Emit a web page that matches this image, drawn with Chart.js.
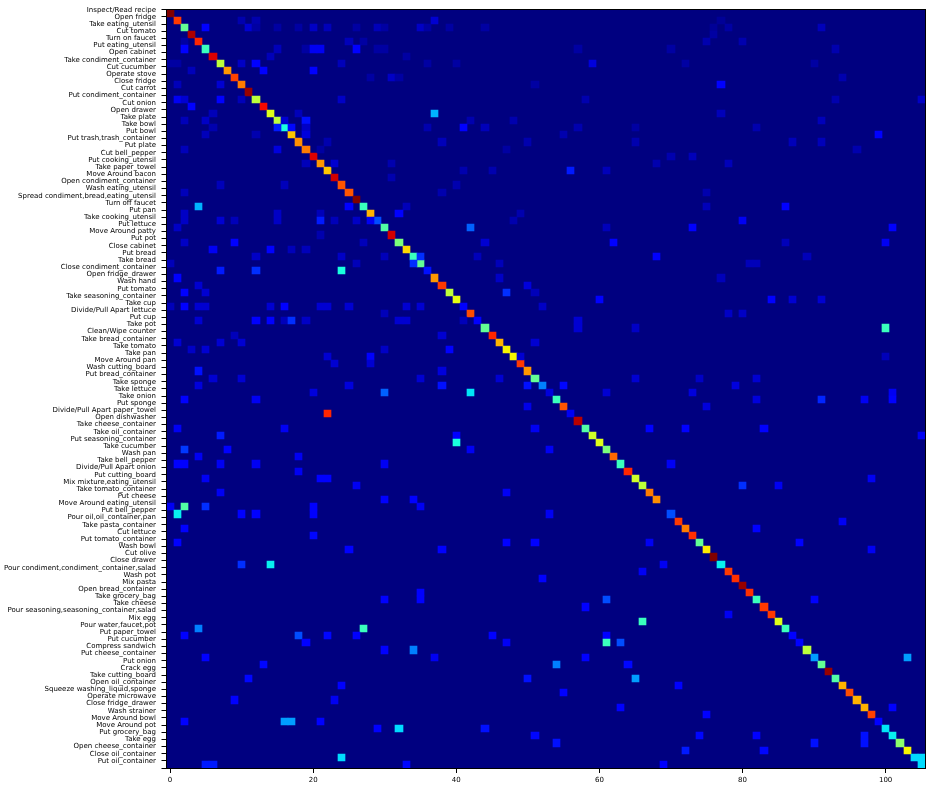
<!DOCTYPE html>
<html>
<head>
<meta charset="utf-8">
<style>html,body{margin:0;padding:0;background:#fff}canvas{display:block}</style>
<script src="https://cdn.jsdelivr.net/npm/chart.js@4/dist/chart.umd.min.js"></script>
</head>
<body>
<canvas id="c" width="934" height="790"></canvas>
<script>
const categories = ["Inspect/Read recipe","Open fridge","Take eating_utensil","Cut tomato","Turn on faucet","Put eating_utensil","Open cabinet","Take condiment_container","Cut cucumber","Operate stove","Close fridge","Cut carrot","Put condiment_container","Cut onion","Open drawer","Take plate","Take bowl","Put bowl","Put trash,trash_container","Put plate","Cut bell_pepper","Put cooking_utensil","Take paper_towel","Move Around bacon","Open condiment_container","Wash eating_utensil","Spread condiment,bread,eating_utensil","Turn off faucet","Put pan","Take cooking_utensil","Put lettuce","Move Around patty","Put pot","Close cabinet","Put bread","Take bread","Close condiment_container","Open fridge_drawer","Wash hand","Put tomato","Take seasoning_container","Take cup","Divide/Pull Apart lettuce","Put cup","Take pot","Clean/Wipe counter","Take bread_container","Take tomato","Take pan","Move Around pan","Wash cutting_board","Put bread_container","Take sponge","Take lettuce","Take onion","Put sponge","Divide/Pull Apart paper_towel","Open dishwasher","Take cheese_container","Take oil_container","Put seasoning_container","Take cucumber","Wash pan","Take bell_pepper","Divide/Pull Apart onion","Put cutting_board","Mix mixture,eating_utensil","Take tomato_container","Put cheese","Move Around eating_utensil","Put bell_pepper","Pour oil,oil_container,pan","Take pasta_container","Cut lettuce","Put tomato_container","Wash bowl","Cut olive","Close drawer","Pour condiment,condiment_container,salad","Wash pot","Mix pasta","Open bread_container","Take grocery_bag","Take cheese","Pour seasoning,seasoning_container,salad","Mix egg","Pour water,faucet,pot","Put paper_towel","Put cucumber","Compress sandwich","Put cheese_container","Put onion","Crack egg","Take cutting_board","Open oil_container","Squeeze washing_liquid,sponge","Operate microwave","Close fridge_drawer","Wash strainer","Move Around bowl","Move Around pot","Put grocery_bag","Take egg","Open cheese_container","Close oil_container","Put oil_container"];
const xTickValues = [0,20,40,60,80,100];
const diagonal = [1,.85,.47,.96,.87,.42,.92,.58,.75,.84,.78,.98,.58,.9,.62,.58,.38,.7,.76,.78,.92,.75,.7,.93,.82,.82,1,.42,.72,.2,.45,.93,.5,.68,.42,.47,.14,.75,.85,.58,.63,.12,.83,.12,.47,.87,.72,.65,.65,.85,.75,.47,.25,.08,.42,.82,.1,.95,.45,.6,.62,.5,.8,.42,.87,.6,.58,.78,.76,0,.2,.85,.78,.86,.47,.66,1,.36,.85,.86,.98,.86,.42,.85,.85,.62,.42,.12,.11,.58,.28,.47,.98,.45,.72,.83,.72,.72,.84,.11,.35,.36,.52,.65,.34,.34];
// [row, column, value]
const offDiagonal = [
[1,10,.04],[1,12,.04],[1,37,.07],[1,77,.02],
[2,5,.12],[2,11,.07],[2,12,.03],[2,15,.03],[2,18,.03],[2,20,.06],[2,22,.05],[2,26,.03],[2,29,.05],[2,30,.03],[2,35,.06],[2,36,.03],[2,39,.03],[2,44,.03],[2,76,.02],[2,78,.03],[2,91,.05],
[3,76,.03],
[4,2,.03],[4,25,.05],[4,27,.03],[4,75,.04],[4,80,.04],
[5,2,.12],[5,15,.05],[5,19,.03],[5,20,.1],[5,21,.1],[5,26,.12],[5,29,.03],[5,30,.03],[5,57,.03],[5,70,.03],[5,93,.04],
[6,14,.05],[6,33,.03],
[7,0,.03],[7,1,.03],[7,10,.06],[7,12,.12],[7,24,.05],[7,36,.03],[7,40,.03],[7,59,.08],[7,72,.03],[7,90,.03],
[8,3,.05],[8,13,.12],[8,20,.11],
[9,28,.03],[9,31,.06],[9,32,.03],[9,94,.04],
[10,1,.05],[10,7,.07],[10,51,.03],[10,77,.11],
[12,1,.1],[12,2,.07],[12,7,.12],[12,10,.05],[12,24,.06],[12,58,.04],[12,93,.04],[12,105,.06],
[13,3,.11],
[14,6,.05],[14,18,.05],[14,37,.3],[14,77,.05],
[15,2,.05],[15,5,.06],[15,16,.07],[15,19,.14],[15,42,.04],[15,48,.04],[15,91,.05],
[16,6,.04],[16,15,.15],[16,17,.13],[16,19,.06],[16,36,.04],[16,41,.11],[16,44,.05],[16,57,.04],[16,65,.03],[16,82,.04],
[17,5,.05],[17,12,.04],[17,19,.08],[17,55,.04],[17,99,.12],
[18,22,.04],[18,38,.05],[18,50,.04],[18,65,.04],[18,87,.05],[18,91,.05],
[19,2,.05],[19,15,.08],[19,21,.03],[19,47,.03],[19,96,.04],
[20,70,.04],[20,73,.05],
[21,19,.05],[21,23,.07],[21,31,.04],[21,68,.04],[21,78,.05],
[22,41,.04],[22,45,.04],[22,56,.15],[22,61,.05],
[23,31,.04],
[24,7,.05],[24,16,.05],[24,40,.04],
[25,2,.05],[25,38,.04],[25,75,.04],
[27,4,.3],[27,25,.12],[27,33,.05],[27,75,.05],[27,86,.11],
[28,2,.06],[28,15,.06],[28,21,.05],[28,32,.11],[28,49,.04],
[29,2,.06],[29,7,.07],[29,9,.05],[29,15,.06],[29,21,.15],[29,23,.05],[29,26,.06],[29,28,.1],[29,48,.04],[29,80,.1],
[30,1,.06],[30,42,.22],[30,61,.05],[30,73,.11],[30,101,.11],
[31,21,.04],
[32,2,.06],[32,9,.12],[32,27,.05],[32,44,.07],[32,62,.11],[32,86,.05],[32,100,.1],
[33,6,.1],[33,14,.12],[33,17,.05],[33,19,.05],
[34,12,.06],[34,24,.06],[34,30,.05],[34,35,.17],[34,43,.05],[34,68,.11],[34,89,.05],
[35,0,.05],[35,26,.05],[35,34,.17],[35,46,.05],[35,81,.05],[35,82,.05],
[36,7,.15],[36,12,.17],[36,24,.38],
[37,1,.11],[37,46,.06],[37,77,.05],
[38,4,.07],[38,50,.08],
[39,2,.11],[39,5,.07],[39,47,.17],[39,51,.05],
[40,60,.12],[40,84,.12],[40,87,.07],[40,91,.07],
[41,0,.05],[41,2,.11],[41,4,.07],[41,5,.07],[41,14,.07],[41,16,.11],[41,21,.07],[41,22,.07],[41,25,.07],[41,33,.07],[41,35,.07],[41,52,.06],
[42,30,.05],[42,78,.06],[42,80,.06],
[43,4,.07],[43,12,.11],[43,14,.12],[43,16,.05],[43,17,.17],[43,19,.06],[43,32,.07],[43,33,.07],[43,41,.05],[43,57,.07],
[44,57,.07],[44,65,.06],[44,100,.42],
[45,9,.05],[45,38,.07],
[46,1,.07],[46,7,.07],[46,10,.07],[46,51,.07],
[47,3,.06],[47,5,.07],[47,30,.06],[47,39,.11],
[48,22,.07],[48,28,.12],[48,49,.07],[48,100,.05],
[49,23,.07],[49,28,.07],
[50,4,.14],[50,38,.08],
[51,6,.07],[51,10,.07],[51,35,.07],[51,46,.07],[51,65,.07],[51,74,.06],[51,82,.07],
[52,4,.08],[52,25,.08],[52,38,.14],[52,50,.14],[52,55,.13],[52,79,.08],
[53,20,.08],[53,30,.22],[53,42,.35],[53,61,.07],[53,73,.08],[53,101,.1],
[54,2,.12],[54,12,.1],[54,82,.08],[54,91,.16],[54,97,.1],[54,101,.11],
[55,50,.09],[55,75,.08],
[56,22,.87],
[58,1,.1],[58,16,.1],[58,51,.1],[58,67,.11],[58,72,.11],[58,83,.11],
[59,7,.15],[59,40,.11],[59,105,.1],
[60,40,.38],
[61,2,.18],[61,8,.11],[61,42,.1],[61,53,.1],
[62,4,.1],[62,18,.1],
[63,1,.12],[63,2,.12],[63,7,.1],[63,12,.1],[63,30,.1],[63,70,.1],
[64,18,.1],
[65,5,.1],[65,21,.11],[65,22,.11],[65,98,.1],
[66,26,.1],[66,80,.17],[66,85,.1],
[67,7,.1],[67,47,.1],
[68,30,.11],[68,34,.11],
[69,0,.1],[69,2,.45],[69,5,.17],[69,20,.12],[69,35,.1],
[70,1,.36],[70,10,.12],[70,12,.12],[70,20,.12],[70,53,.1],
[71,94,.1],
[72,2,.11],[72,82,.11],
[73,20,.13],
[74,1,.12],[74,47,.11],[74,51,.11],[74,67,.1],[74,88,.11],
[75,25,.11],[75,38,.11],[75,98,.1],
[77,10,.17],[77,14,.36],[77,69,.1],
[78,66,.1],
[79,52,.11],
[81,35,.11],
[82,30,.12],[82,35,.11],[82,61,.2],[82,90,.11],
[83,58,.12],
[84,78,.1],
[85,66,.42],
[86,4,.25],[86,27,.42],
[87,2,.12],[87,18,.2],[87,22,.13],[87,26,.12],[87,45,.12],[87,61,.11],
[88,19,.12],[88,47,.1],[88,61,.42],[88,63,.2],
[89,30,.12],[89,34,.25],
[90,5,.12],[90,37,.1],[90,58,.12],[90,103,.28],
[91,13,.13],[91,54,.25],[91,64,.13],
[93,11,.13],[93,50,.14],[93,65,.28],
[94,24,.12],[94,71,.11],
[95,55,.12],
[96,9,.12],[96,23,.1],
[97,63,.11],[97,101,.11],
[98,75,.12],
[99,2,.12],[99,16,.28],[99,17,.28],[99,21,.12],
[100,29,.12],[100,32,.34],[100,44,.14],
[101,51,.13],[101,74,.13],[101,82,.12],[101,97,.14],
[102,54,.14],[102,90,.14],[102,97,.14],
[103,72,.15],[103,83,.13],
[104,24,.34],[104,105,.34],
[105,5,.15],[105,6,.15],[105,33,.13],[105,69,.12]
];

function jet(v){
  const seg=(pts)=>{for(let i=1;i<pts.length;i++){if(v<=pts[i][0]){const a=pts[i-1],b=pts[i];return a[1]+(b[1]-a[1])*(v-a[0])/(b[0]-a[0]);}}return pts[pts.length-1][1];};
  const r=seg([[0,0],[.35,0],[.66,1],[.89,1],[1,.5]]);
  const g=seg([[0,0],[.125,0],[.375,1],[.64,1],[.91,0],[1,0]]);
  const b=seg([[0,.5],[.11,1],[.34,1],[.65,0],[1,0]]);
  return `rgb(${Math.round(r*255)},${Math.round(g*255)},${Math.round(b*255)})`;
}

const cells = [];
diagonal.forEach((v,i)=>{ if(v>0) cells.push({x:i,y:[i,i+1],v}); });
offDiagonal.forEach(([r,c,v])=>cells.push({x:c,y:[r,r+1],v}));

const heatPlugin = {
  id:'heat',
  afterDatasetsUpdate(chart){
    const sx=chart.scales.x, sy=chart.scales.y;
    chart.getDatasetMeta(0).data.forEach((el,i)=>{
      const d=cells[i];
      const l=Math.round(sx.getPixelForValue(d.x-.5)), r=Math.round(sx.getPixelForValue(d.x+.5));
      const t=Math.round(sy.getPixelForValue(d.y[0])), b=Math.round(sy.getPixelForValue(d.y[1]));
      el.x=(l+r)/2; el.width=r-l; el.y=t; el.base=b; el.height=b-t;
    });
  },
  beforeDatasetsDraw(chart){
    const a=chart.chartArea, ctx=chart.ctx;
    ctx.save(); ctx.fillStyle=jet(0);
    ctx.fillRect(a.left,a.top,a.right-a.left,a.bottom-a.top); ctx.restore();
  },
  afterDraw(chart){
    const a=chart.chartArea, ctx=chart.ctx;
    const l=Math.round(a.left)-.5, t=Math.round(a.top)-.5, r=Math.round(a.right)+.5, b=Math.round(a.bottom)+.5;
    ctx.save(); ctx.strokeStyle='#000'; ctx.lineWidth=1;
    ctx.strokeRect(l,t,r-l,b-t);
    ctx.restore();
  }
};

const FONT={family:'"DejaVu Sans"',size:7};
new Chart(document.getElementById('c'),{
  type:'bar',
  data:{datasets:[{
    data:cells,
    parsing:{xAxisKey:'x',yAxisKey:'y'},
    backgroundColor:cells.map(d=>jet(d.v)),
    borderWidth:0,
    barThickness:7,
    grouped:false
  }]},
  plugins:[heatPlugin],
  options:{
    responsive:false,
    animation:false,
    events:[],
    layout:{padding:{top:8.5,right:9,left:0,bottom:0}},
    plugins:{legend:{display:false},tooltip:{enabled:false},title:{display:false}},
    scales:{
      x:{
        type:'linear',offset:false,min:-.5,max:105.5,
        afterBuildTicks:s=>{s.ticks=xTickValues.map(v=>({value:v}));},
        afterFit:s=>{s.height=22;},
        grid:{display:true,drawOnChartArea:false,drawTicks:true,tickLength:5,tickColor:'#000',tickWidth:1,offset:false},
        border:{display:false},
        ticks:{font:FONT,color:'#000',padding:3,maxRotation:0,autoSkip:false,callback:v=>String(v)}
      },
      y:{
        type:'linear',offset:false,reverse:true,min:0,max:106,
        afterBuildTicks:s=>{s.ticks=categories.map((_,i)=>({value:i})).concat([{value:categories.length}]);},
        afterFit:s=>{s.width=166.5;},
        grid:{display:true,drawOnChartArea:false,drawTicks:true,tickLength:5,tickColor:'#000',tickWidth:1},
        border:{display:false},
        ticks:{font:FONT,color:'#000',padding:5.5,autoSkip:false,callback:v=>categories[v]||''}
      }
    }
  }
});
</script>
</body>
</html>
